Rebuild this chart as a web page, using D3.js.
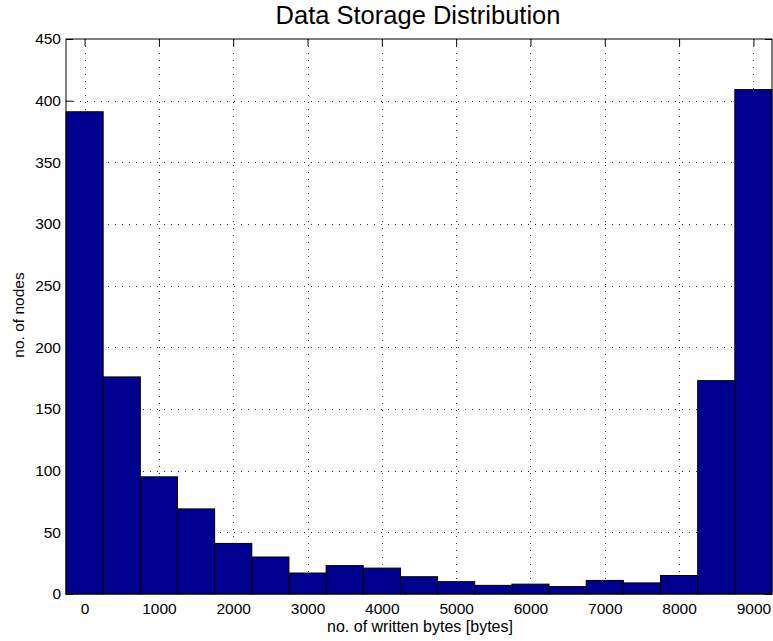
<!DOCTYPE html>
<html>
<head>
<meta charset="utf-8">
<script src="https://cdn.jsdelivr.net/npm/d3@7"></script>
<style>
  body { margin: 0; background: #fff; }
  text { font-family: "Liberation Sans", Arial, Helvetica, sans-serif; fill: #000; }
</style>
</head>
<body>
<div id="chart"></div>
<script>
// chart data (histogram bins, bin width 500 bytes)
var binCenters = [0, 500, 1000, 1500, 2000, 2500, 3000, 3500, 4000, 4500,
                  5000, 5500, 6000, 6500, 7000, 7500, 8000, 8500, 9000];
var nodeCounts = [391, 176, 95, 69, 41, 30, 17, 23, 21, 14,
                  10, 7, 8, 6, 11, 9, 15, 173, 409];
var binWidth = 500;
var xTicks = [0, 1000, 2000, 3000, 4000, 5000, 6000, 7000, 8000, 9000];
var yTicks = [0, 50, 100, 150, 200, 250, 300, 350, 400, 450];

// svg area
var svgWidth = 773;
var svgHeight = 641;

var chartMargin = { top: 39, right: 1, bottom: 47, left: 66 };
var chartWidth = svgWidth - chartMargin.left - chartMargin.right;
var chartHeight = svgHeight - chartMargin.top - chartMargin.bottom;

var svg = d3.select("#chart")
    .append("svg")
    .attr("width", svgWidth)
    .attr("height", svgHeight);

var chartGroup = svg.append("g")
    .attr("transform", `translate(${chartMargin.left}, ${chartMargin.top})`);

// scales
var xScale = d3.scaleLinear()
    .domain([binCenters[0] - binWidth / 2, binCenters[binCenters.length - 1] + binWidth / 2])
    .range([0, chartWidth]);

var yScale = d3.scaleLinear()
    .domain([0, 450])
    .range([chartHeight, 0]);

// dotted grid
chartGroup.append("g")
    .selectAll("line")
    .data(xTicks)
    .enter()
    .append("line")
    .attr("x1", d => Math.round(xScale(d)) + 0.5)
    .attr("x2", d => Math.round(xScale(d)) + 0.5)
    .attr("y1", 0)
    .attr("y2", chartHeight)
    .attr("stroke", "#333")
    .attr("stroke-dasharray", "1,6");

chartGroup.append("g")
    .selectAll("line")
    .data(yTicks.slice(1, -1))
    .enter()
    .append("line")
    .attr("x1", 0)
    .attr("x2", chartWidth)
    .attr("y1", d => Math.round(yScale(d)) + 0.5)
    .attr("y2", d => Math.round(yScale(d)) + 0.5)
    .attr("stroke", "#333")
    .attr("stroke-dasharray", "1,6");

// axes (ticks inside, like matlab)
var fmt = d3.format("d");
var xAxis = d3.axisBottom(xScale).tickValues(xTicks).tickFormat(fmt).tickSizeInner(-7).tickSizeOuter(0).tickPadding(9);
var yAxis = d3.axisLeft(yScale).tickValues(yTicks).tickFormat(fmt).tickSizeInner(-7).tickSizeOuter(0).tickPadding(5);
var xTop = d3.axisTop(xScale).tickValues(xTicks).tickSizeInner(-7).tickSizeOuter(0).tickFormat("");
var yRight = d3.axisRight(yScale).tickValues(yTicks).tickSizeInner(-7).tickSizeOuter(0).tickFormat("");

chartGroup.append("g")
    .attr("transform", `translate(0, ${chartHeight})`)
    .style("font-size", "15.5px")
    .call(xAxis);
chartGroup.append("g")
    .style("font-size", "15.5px")
    .call(yAxis);
chartGroup.append("g").call(xTop);
chartGroup.append("g").attr("transform", `translate(${chartWidth}, 0)`).call(yRight);

chartGroup.selectAll(".domain").remove();
chartGroup.selectAll(".tick text")
    .attr("font-family", "'Liberation Sans', Arial, Helvetica, sans-serif")
    .attr("fill", "#000");

// bars
chartGroup.selectAll("rect.bar")
    .data(nodeCounts)
    .enter()
    .append("rect")
    .classed("bar", true)
    .attr("x", (d, i) => xScale(binCenters[i] - binWidth / 2))
    .attr("y", d => yScale(d))
    .attr("width", xScale(binWidth) - xScale(0))
    .attr("height", d => chartHeight - yScale(d))
    .attr("fill", "#00008f")
    .attr("stroke", "#000")
    .attr("stroke-width", 1);

// axes box
chartGroup.append("rect")
    .attr("x", 0)
    .attr("y", 0)
    .attr("width", chartWidth)
    .attr("height", chartHeight)
    .attr("fill", "none")
    .attr("stroke", "#000")
    .attr("stroke-width", 1);

// title
svg.append("text")
    .attr("x", 418)
    .attr("y", 24)
    .attr("text-anchor", "middle")
    .style("font-size", "25.5px")
    .text("Data Storage Distribution");

// x axis label
svg.append("text")
    .attr("x", 420)
    .attr("y", 632)
    .attr("text-anchor", "middle")
    .style("font-size", "16px")
    .text("no. of written bytes [bytes]");

// y axis label
svg.append("text")
    .attr("transform", "rotate(-90)")
    .attr("x", -315)
    .attr("y", 24)
    .attr("text-anchor", "middle")
    .style("font-size", "15.5px")
    .text("no. of nodes");
</script>
</body>
</html>
